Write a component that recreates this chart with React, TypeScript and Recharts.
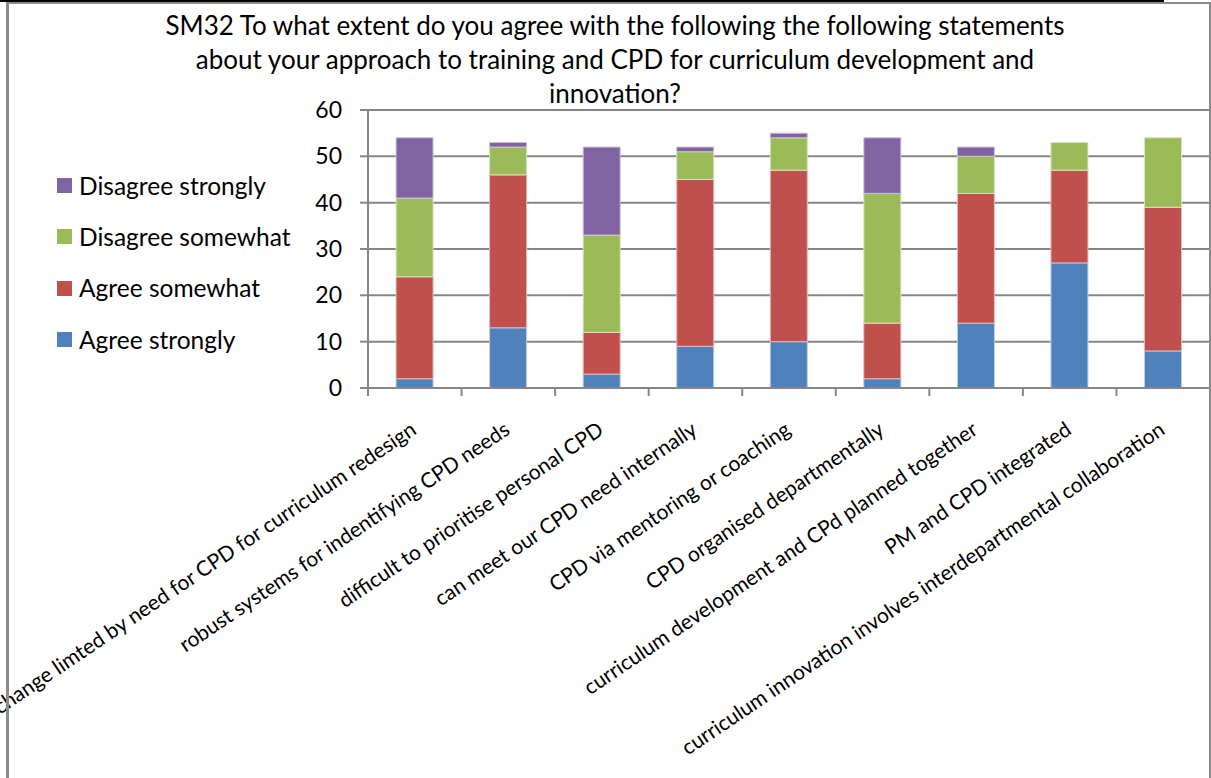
import { BarChart, Bar, XAxis, YAxis, CartesianGrid } from 'recharts'

const categories = [
  'change limted by need for CPD for curriculum redesign',
  'robust systems for indentifying CPD needs',
  'difficult to prioritise personal CPD',
  'can meet our CPD need internally',
  'CPD via mentoring or coaching',
  'CPD organised departmentally',
  'curriculum development and CPd planned together',
  'PM and CPD integrated',
  'curriculum innovation involves interdepartmental collaboration',
]

const agreeStrongly = [2, 13, 3, 9, 10, 2, 14, 27, 8]
const agreeSomewhat = [22, 33, 9, 36, 37, 12, 28, 20, 31]
const disagreeSomewhat = [17, 6, 21, 6, 7, 28, 8, 6, 15]
const disagreeStrongly = [13, 1, 19, 1, 1, 12, 2, 0, 0]

const yTicks = [0, 10, 20, 30, 40, 50, 60]

const titleLines = [
  'SM32 To what extent do you agree with the following the following statements',
  'about your approach to training and CPD for curriculum development and',
  'innovation?',
]

const series = [
  { key: 'agreeStrongly', name: 'Agree strongly', color: '#4F81BD', edge: '#b9cde5' },
  { key: 'agreeSomewhat', name: 'Agree somewhat', color: '#C0504D', edge: '#e6b9b8' },
  { key: 'disagreeSomewhat', name: 'Disagree somewhat', color: '#9BBB59', edge: '#d7e4bd' },
  { key: 'disagreeStrongly', name: 'Disagree strongly', color: '#8064A2', edge: '#ccc1da' },
]

const rows = categories.map((name, i) => ({
  name,
  agreeStrongly: agreeStrongly[i],
  agreeSomewhat: agreeSomewhat[i],
  disagreeSomewhat: disagreeSomewhat[i],
  disagreeStrongly: disagreeStrongly[i],
}))

const W = 1211
const H = 778
const Y_AXIS_W = 368
const RIGHT = 1
const X_AXIS_H = 390
const PLOT_BOTTOM = H - X_AXIS_H
const BAND = (W - Y_AXIS_W - RIGHT) / categories.length
const GRID = '#868686'
const FONT = 'Lato, "Liberation Sans", sans-serif'

function XTick(props: any) {
  const { x, payload, index } = props
  const left = x - BAND / 2
  const tx = x + 3
  const ty = PLOT_BOTTOM + 45
  return (
    <g>
      <line x1={left} x2={left} y1={PLOT_BOTTOM} y2={PLOT_BOTTOM + 8} stroke={GRID} strokeWidth={2} />
      {index === categories.length - 1 && (
        <line x1={left + BAND} x2={left + BAND} y1={PLOT_BOTTOM} y2={PLOT_BOTTOM + 8} stroke={GRID} strokeWidth={2} />
      )}
      <text
        x={tx}
        y={ty}
        transform={`rotate(-34, ${tx}, ${ty})`}
        textAnchor="end"
        fontSize={21}
        fill="#000"
        fontFamily={FONT}
      >
        {payload.value}
      </text>
    </g>
  )
}

export default function App() {
  return (
    <div style={{ position: 'absolute', left: 0, top: 0, width: W, height: H, background: '#fff', overflow: 'hidden', fontFamily: FONT }}>
      <BarChart
        width={W}
        height={H}
        data={rows}
        margin={{ top: 110, right: RIGHT, left: 0, bottom: 0 }}
        barCategoryGap="30%"
      >
        <CartesianGrid vertical={false} stroke={GRID} strokeWidth={2} />
        <XAxis
          dataKey="name"
          height={X_AXIS_H}
          interval={0}
          tickLine={false}
          axisLine={{ stroke: GRID, strokeWidth: 2 }}
          tick={<XTick />}
        />
        <YAxis
          width={Y_AXIS_W}
          domain={[0, 60]}
          ticks={yTicks}
          interval={0}
          tickSize={8}
          tickMargin={18}
          axisLine={{ stroke: GRID, strokeWidth: 2 }}
          tickLine={{ stroke: GRID, strokeWidth: 2 }}
          tick={{ fill: '#000', fontSize: 23, fontFamily: FONT }}
        />
        {series.map((s) => (
          <Bar
            key={s.key}
            dataKey={s.key}
            name={s.name}
            stackId="a"
            fill={s.color}
            stroke={s.edge}
            strokeWidth={1}
            isAnimationActive={false}
          />
        ))}
      </BarChart>
      <div style={{ position: 'absolute', left: 0, top: 0, width: 1164, height: 2, background: '#000' }} />
      <div
        style={{
          position: 'absolute', left: 6, top: 2, width: W - 6, height: H + 20, boxSizing: 'border-box',
          borderLeft: '3px solid #8c8c8c', borderTop: '2px solid #8c8c8c', borderRight: '2px solid #8c8c8c',
        }}
      />
      <div style={{ position: 'absolute', left: 0, top: 8, width: 1230, textAlign: 'center', fontSize: 26, lineHeight: '34px', color: '#000' }}>
        {titleLines.map((t) => (
          <div key={t}>{t}</div>
        ))}
      </div>
      <div style={{ position: 'absolute', left: 57, top: 160 }}>
        {[...series].reverse().map((s) => (
          <div key={s.key} style={{ display: 'flex', alignItems: 'center', height: 51.3, fontSize: 24.5 }}>
            <span style={{ width: 15, height: 15, background: s.color, marginRight: 7, display: 'inline-block' }} />
            <span style={{ color: '#000', lineHeight: '30px', height: 30 }}>{s.name}</span>
          </div>
        ))}
      </div>
    </div>
  )
}
